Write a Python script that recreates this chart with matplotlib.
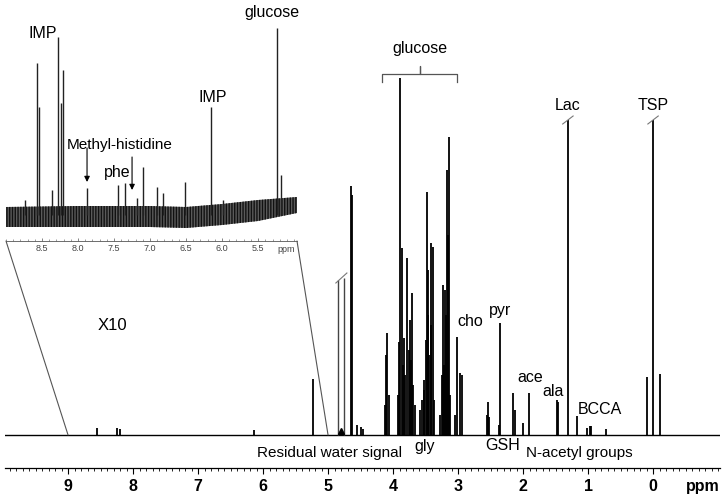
import matplotlib.pyplot as plt
from matplotlib.patches import ConnectionPatch
from matplotlib.ticker import MultipleLocator

plt.rcParams['font.family'] = ['Liberation Sans', 'DejaVu Sans']
plt.rcParams['hatch.linewidth'] = 1.0

# main 1H spectrum: peak positions (ppm) and heights (baseline = 0)
main_ppm = [8.56, 8.24, 8.20, 6.14, 5.23, 4.645, 4.63, 4.55, 4.50, 4.47,
            4.13, 4.11, 4.09, 4.07, 3.92, 3.91, 3.89, 3.87, 3.85, 3.83, 3.81,
            3.78, 3.76, 3.74, 3.72, 3.71, 3.69, 3.66, 3.58, 3.55, 3.53, 3.52,
            3.50, 3.48, 3.47, 3.46, 3.44, 3.42, 3.41, 3.39, 3.37, 3.28, 3.25,
            3.23, 3.21, 3.20, 3.185, 3.17, 3.155, 3.14, 3.12, 3.05, 3.02, 2.97,
            2.94, 2.56, 2.54, 2.52, 2.37, 2.35, 2.15, 2.13, 2.00, 1.91, 1.48,
            1.46, 1.31, 1.17, 1.01, 0.97, 0.95, 0.72, 0.10, 0.0, -0.11]
main_height = [7, 7, 6, 5, 56, 249, 240, 10, 8, 6,
               30, 80, 102, 40, 40, 93, 357, 187, 70, 97, 60,
               177, 85, 115, 75, 142, 50, 30, 25, 35, 55, 45,
               95, 243, 120, 165, 80, 110, 192, 188, 35, 20, 60,
               150, 70, 145, 120, 265, 200, 298, 40, 20, 98, 62,
               60, 20, 33, 18, 10, 112, 42, 25, 12, 42, 35,
               33, 315, 19, 7, 9, 9, 6, 58, 315, 61]

# suppressed water lines
water_ppm = [4.84, 4.76]
water_height = [155, 157]

# x10 inset (aromatic region)
inset_ppm = [8.74, 8.57, 8.54, 8.36, 8.28, 8.24, 8.21, 7.875, 7.44, 7.35,
             7.18, 7.10, 6.90, 6.82, 6.51, 6.15, 5.99, 5.24, 5.18]
inset_height = [15, 152, 108, 25, 178, 112, 145, 27, 30, 32,
                17, 48, 28, 22, 33, 108, 15, 187, 40]

# noise envelope of the inset baseline
noise_ppm = [9.0, 8.0, 7.0, 6.5, 6.0, 5.5, 4.96]
noise_low = [-12, -12, -12, -13, -10, -6, 2]
noise_high = [8, 9, 9, 8, 11, 15, 18]

W, H = 722, 497
fig = plt.figure(figsize=(W / 100, H / 100), dpi=100)

# ---- main spectrum
ax = fig.add_axes([5 / W, 29 / H, 715 / W, 468 / H])
ax.patch.set_visible(False)
ax.set_xlim(9.97, -1.03)
ax.set_ylim(-33, 435)
ax.axhline(0, color='black', lw=1.0)
ax.vlines(main_ppm, 0, main_height, color='black', lw=1.3)
ax.vlines(water_ppm, 0, water_height, color='#444444', lw=1.0)

for s in ['left', 'right', 'top']:
    ax.spines[s].set_visible(False)
ax.spines['bottom'].set_linewidth(0.9)
ax.set_yticks([])
ax.set_xticks(range(10))
ax.xaxis.set_minor_locator(MultipleLocator(0.1))
ax.tick_params(axis='x', which='major', length=4, width=0.8, pad=4, labelsize=11.5)
ax.tick_params(axis='x', which='minor', length=2, width=0.6)
for lbl in ax.get_xticklabels():
    lbl.set_fontweight('bold')
ax.text(-0.77, -52, 'ppm', ha='center', va='center', fontsize=11.5, fontweight='bold')

# break marks on truncated peaks
for p, h in [(1.31, 315), (0.0, 315)]:
    ax.plot([p + 0.08, p - 0.08], [h - 4, h + 4], color='#777777', lw=0.8)
ax.plot([4.88, 4.71], [152, 162], color='#777777', lw=0.8)
ax.plot(4.8, 4, marker='^', color='black', ms=4)

# glucose bracket
ax.plot([4.17, 4.17, 3.585, 3.585, 3.585, 3.015, 3.015],
        [353, 361, 361, 369, 361, 361, 353], color='#555555', lw=0.9)

fs = 11.5
ax.text(3.585, 387, 'glucose', ha='center', va='center', fontsize=fs)
ax.text(2.815, 113, 'cho', ha='center', va='center', fontsize=fs)
ax.text(2.355, 124, 'pyr', ha='center', va='center', fontsize=fs)
ax.text(1.89, 57, 'ace', ha='center', va='center', fontsize=fs)
ax.text(1.54, 43, 'ala', ha='center', va='center', fontsize=fs)
ax.text(1.32, 330, 'Lac', ha='center', va='center', fontsize=fs)
ax.text(0.0, 330, 'TSP', ha='center', va='center', fontsize=fs)
ax.text(0.815, 25, 'BCCA', ha='center', va='center', fontsize=fs)
ax.text(4.985, -18, 'Residual water signal', ha='center', va='center', fontsize=11)
ax.text(3.52, -11, 'gly', ha='center', va='center', fontsize=fs)
ax.text(2.32, -11, 'GSH', ha='center', va='center', fontsize=fs)
ax.text(1.14, -18, 'N-acetyl groups', ha='center', va='center', fontsize=11)
ax.text(8.31, 110, 'X10', ha='center', va='center', fontsize=12)

# ---- inset
axin = fig.add_axes([6 / W, (H - 241) / H, 291 / W, 241 / H])
axin.patch.set_visible(False)
axin.set_xlim(9.0, 4.96)
axin.set_ylim(-26, 215)
axin.fill_between(noise_ppm, noise_low, noise_high, facecolor='#5a5a5a',
                  edgecolor='#111111', hatch='||||||', lw=0)
axin.vlines(inset_ppm, 0, inset_height, color='#222222', lw=1.0)
for s in ['left', 'right', 'top']:
    axin.spines[s].set_visible(False)
axin.spines['bottom'].set_linewidth(0.6)
axin.spines['bottom'].set_color('#555555')
axin.set_yticks([])
axin.set_xticks([8.5, 8.0, 7.5, 7.0, 6.5, 6.0, 5.5])
axin.set_xticklabels(['8.5', '8.0', '7.5', '7.0', '6.5', '6.0', '5.5'])
axin.xaxis.set_minor_locator(MultipleLocator(0.1))
axin.tick_params(axis='x', which='major', direction='in', length=2.5, width=0.5,
                 pad=2, labelsize=6.5, labelcolor='#444444', color='#555555')
axin.tick_params(axis='x', which='minor', direction='in', length=1.2, width=0.4,
                 color='#555555')
axin.text(5.11, -35, 'ppm', ha='center', va='center', fontsize=6.5, color='#444444')

axin.text(8.486, 181, 'IMP', ha='center', va='center', fontsize=fs)
axin.text(5.305, 203, 'glucose', ha='center', va='center', fontsize=fs)
axin.text(6.125, 118, 'IMP', ha='center', va='center', fontsize=fs)
axin.text(7.417, 70, 'Methyl-histidine', ha='center', va='center', fontsize=11)
axin.text(7.458, 42, 'phe', ha='center', va='center', fontsize=fs)
arrow = dict(arrowstyle='-|>', color='black', lw=0.8, mutation_scale=8,
             shrinkA=0, shrinkB=0)
axin.annotate('', xy=(7.875, 33), xytext=(7.875, 67), arrowprops=arrow)
axin.annotate('', xy=(7.25, 25), xytext=(7.25, 58), arrowprops=arrow)

# connector lines from inset to main axis
for a, b in [((0, 0), (9.0, 0)), ((1, 0), (5.0, 0))]:
    con = ConnectionPatch(xyA=a, coordsA=axin.transAxes, xyB=b, coordsB=ax.transData,
                          color='#555555', lw=0.8)
    fig.add_artist(con)

fig.savefig('out.png', dpi=100)
